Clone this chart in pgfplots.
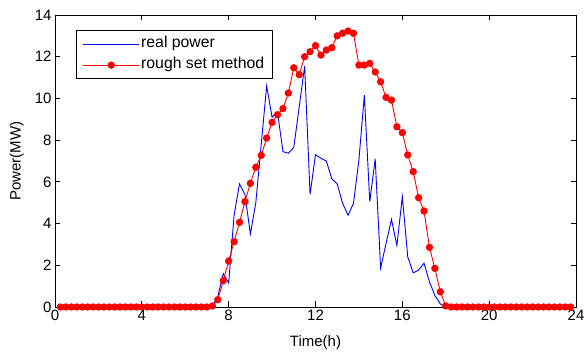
\documentclass[border=0pt]{standalone}
\usepackage{fontspec}
\setmainfont{Liberation Sans}
\usepackage{pgfplots}
\pgfplotsset{compat=1.18}
\begin{document}
\begin{tikzpicture}
\path[use as bounding box] (-55bp,-45bp) rectangle (530bp,307bp);
\begin{axis}[
  scale only axis, width=521bp, height=292bp,
  at={(0,0)}, anchor=south west,
  xmin=0, xmax=24, ymin=0, ymax=14,
  xtick={0,4,...,24}, ytick={0,2,...,14},
  font=\fontsize{15bp}{18bp}\selectfont,
  /pgf/number format/assume math mode=true,
  tick align=inside, major tick length=5.5bp,
  axis line style={line width=0.9bp, black},
  every tick/.style={line width=0.9bp, black},
  clip=false,
  xlabel={Time(h)}, ylabel={Power(MW)},
  xlabel style={at={(axis description cs:0.5,-0.0959)}, anchor=north, inner sep=0pt},
  ylabel style={at={(axis description cs:-0.0595,0.5)}, anchor=south, inner sep=0pt},
  legend cell align=left,
  legend style={at={(axis description cs:0.040,0.948)}, anchor=north west,
    draw=black, line width=0.9bp, inner xsep=6bp, inner ysep=3bp, row sep=0bp,
    nodes={inner sep=2bp, text height=12bp, text depth=5bp},
    font=\fontsize{15.8bp}{18bp}\selectfont},
  legend image code/.code={%
    \path (0bp,0bp) -- (56bp,0bp);
    \draw[#1, mark repeat=2, mark phase=2] plot coordinates {(4bp,0bp) (28.5bp,0bp) (53bp,0bp)};},
]
\addplot[blue, line width=0.9bp] coordinates {
(0.25,0)(0.5,0)(0.75,0)(1,0)(1.25,0)(1.5,0)(1.75,0)(2,0)(2.25,0)(2.5,0)(2.75,0)(3,0)
(3.25,0)(3.5,0)(3.75,0)(4,0)(4.25,0)(4.5,0)(4.75,0)(5,0)(5.25,0)(5.5,0)(5.75,0)(6,0)
(6.25,0)(6.5,0)(6.75,0)(7,0)
(7.25,0.05)(7.5,0.5)(7.75,1.6)(8,1.15)(8.25,4.4)(8.5,5.9)(8.75,5.4)(9,3.5)
(9.25,5.0)(9.5,7.8)(9.75,10.6)(10,9.1)(10.25,9.35)(10.5,7.45)(10.75,7.37)(11,7.65)
(11.25,9.6)(11.5,11.55)(11.75,5.4)(12,7.3)(12.25,7.13)(12.5,7.0)(12.75,6.15)(13,5.9)
(13.25,4.97)(13.5,4.4)(13.75,4.97)(14,7.05)(14.25,10.16)(14.5,5.05)(14.75,7.1)(15,1.86)
(15.25,3.05)(15.5,4.2)(15.75,2.95)(16,5.29)(16.25,2.4)(16.5,1.64)(16.75,1.77)(17,2.1)
(17.25,1.2)(17.5,0.55)(17.75,0.15)(18,0)
(18.25,0)(18.5,0)(18.75,0)(19,0)(19.25,0)(19.5,0)(19.75,0)(20,0)(20.25,0)(20.5,0)
(20.75,0)(21,0)(21.25,0)(21.5,0)(21.75,0)(22,0)(22.25,0)(22.5,0)(22.75,0)(23,0)
(23.25,0)(23.5,0)(23.75,0)
};
\addlegendentry{real power}
\addplot[red, line width=0.9bp, mark=*, mark size=3.2bp, mark options={fill=red, draw=red, solid}] coordinates {
(0.25,0)(0.5,0)(0.75,0)(1,0)(1.25,0)(1.5,0)(1.75,0)(2,0)(2.25,0)(2.5,0)(2.75,0)(3,0)
(3.25,0)(3.5,0)(3.75,0)(4,0)(4.25,0)(4.5,0)(4.75,0)(5,0)(5.25,0)(5.5,0)(5.75,0)(6,0)
(6.25,0)(6.5,0)(6.75,0)(7,0)
(7.25,0.05)(7.5,0.35)(7.75,1.26)(8,2.2)(8.25,3.13)(8.5,4.06)(8.75,5.05)(9,5.93)
(9.25,6.7)(9.5,7.27)(9.75,8.1)(10,8.85)(10.25,9.22)(10.5,9.51)(10.75,10.26)(11,11.47)
(11.25,11.14)(11.5,12.0)(11.75,12.24)(12,12.53)(12.25,12.08)(12.5,12.32)(12.75,12.43)(13,13.0)
(13.25,13.13)(13.5,13.23)(13.75,13.12)(14,11.6)(14.25,11.6)(14.5,11.68)(14.75,11.27)(15,10.8)
(15.25,10.05)(15.5,9.92)(15.75,8.64)(16,8.36)(16.25,7.29)(16.5,6.49)(16.75,5.24)(17,4.6)
(17.25,2.86)(17.5,1.85)(17.75,0.73)(18,0.05)
(18.25,0)(18.5,0)(18.75,0)(19,0)(19.25,0)(19.5,0)(19.75,0)(20,0)(20.25,0)(20.5,0)
(20.75,0)(21,0)(21.25,0)(21.5,0)(21.75,0)(22,0)(22.25,0)(22.5,0)(22.75,0)(23,0)
(23.25,0)(23.5,0)(23.75,0)
};
\addlegendentry{rough set method}
\end{axis}
\end{tikzpicture}
\end{document}
